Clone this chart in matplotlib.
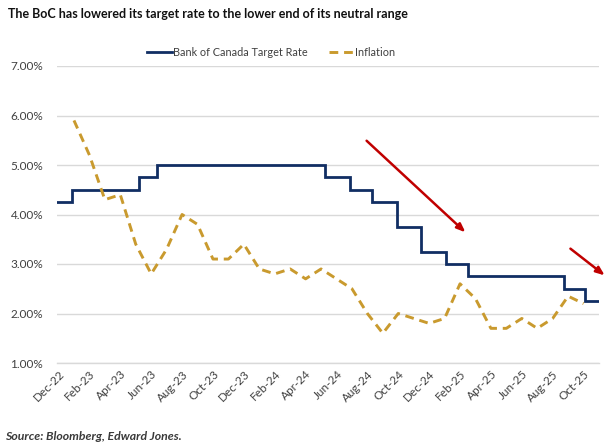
import matplotlib
matplotlib.use("Agg")
import matplotlib.pyplot as plt
from matplotlib.ticker import FuncFormatter

# ---- data ----
tick_labels = ["Dec-22", "Feb-23", "Apr-23", "Jun-23", "Aug-23", "Oct-23", "Dec-23",
               "Feb-24", "Apr-24", "Jun-24", "Aug-24", "Oct-24", "Dec-24", "Feb-25",
               "Apr-25", "Jun-25", "Aug-25", "Oct-25"]
# month index: Dec-22 = 0
inflation_months = list(range(1, 35))  # Jan-23 .. Oct-25
inflation = [5.9, 5.2, 4.3, 4.4, 3.4, 2.8, 3.3, 4.0, 3.8, 3.1, 3.1, 3.4,
             2.9, 2.8, 2.9, 2.7, 2.9, 2.7, 2.5, 2.0, 1.6, 2.0, 1.9, 1.8,
             1.9, 2.6, 2.3, 1.7, 1.7, 1.9, 1.7, 1.9, 2.35, 2.2]
# policy-rate change points (month index) and levels
rate_months = [-0.1, 0.85, 5.23, 6.4, 17.25, 18.89, 20.27, 21.9, 23.5, 25.1, 26.5, 32.72, 34.12, 35.0]
rate_levels = [4.25, 4.50, 4.75, 5.00, 4.75, 4.50, 4.25, 3.75, 3.25, 3.00, 2.75, 2.50, 2.25, 2.25]
arrows = [((19.95, 5.49), (26.35, 3.64)), ((33.15, 3.31), (35.37, 2.77))]

navy = "#112E63"
gold = "#C99A2E"
red = "#C00000"
txt = "#404040"

plt.rcParams['font.family'] = ['Lato', 'DejaVu Sans']

fig = plt.figure(figsize=(6.08, 4.47), dpi=100)
ax = fig.add_axes([57/608, 1 - 363/447, (599-57)/608, (363-66)/447])

ax.step(rate_months, rate_levels, where='post', color=navy, lw=2.0,
        label="Bank of Canada Target Rate", solid_joinstyle='miter')
ax.plot(inflation_months, inflation, color=gold, lw=2.1, ls=(0, (3, 2)),
        label="Inflation")

for (x0, y0), (x1, y1) in arrows:
    ax.annotate("", xy=(x1, y1), xytext=(x0, y0), annotation_clip=False,
                arrowprops=dict(arrowstyle="-|>,head_length=0.5,head_width=0.2",
                                color=red, lw=1.8, shrinkA=0, shrinkB=0))

ax.set_xlim(-0.1, 35.0)
ax.set_ylim(1.0, 7.0)
ax.set_yticks([1, 2, 3, 4, 5, 6, 7])
ax.yaxis.set_major_formatter(FuncFormatter(lambda v, p: f"{v:.2f}%"))
ax.set_xticks(range(0, 35, 2))
ax.set_xticklabels(tick_labels, rotation=45, ha='right', rotation_mode='anchor')
ax.tick_params(axis='both', length=0, labelsize=8.5, colors=txt)
ax.tick_params(axis='x', pad=4)
ax.tick_params(axis='y', pad=10)
ax.grid(axis='y', color="#D9D9D9", lw=1.0)
ax.set_axisbelow(True)
for s in ["top", "right", "left"]:
    ax.spines[s].set_visible(False)
ax.spines["bottom"].set_color("#D9D9D9")
ax.spines["bottom"].set_linewidth(1.0)

leg = fig.legend(loc='center', bbox_to_anchor=(271/608, 1 - 52/447), ncol=2,
                 frameon=False, fontsize=7.8, handlelength=2.3, columnspacing=1.9,
                 handletextpad=0.15)
for t in leg.get_texts():
    t.set_color(txt)

fig.text(8/608, 1 - 14/447, "The BoC has lowered its target rate to the lower end of its neutral range",
         fontsize=9.0, fontweight='bold', color="#111111", va='center', ha='left')
fig.text(5/608, 1 - 437/447, "Source: Bloomberg, Edward Jones.", fontsize=8.8,
         fontweight='bold', style='italic', color="#3A3A3A", va='center', ha='left')

fig.savefig("out.png", dpi=100)
